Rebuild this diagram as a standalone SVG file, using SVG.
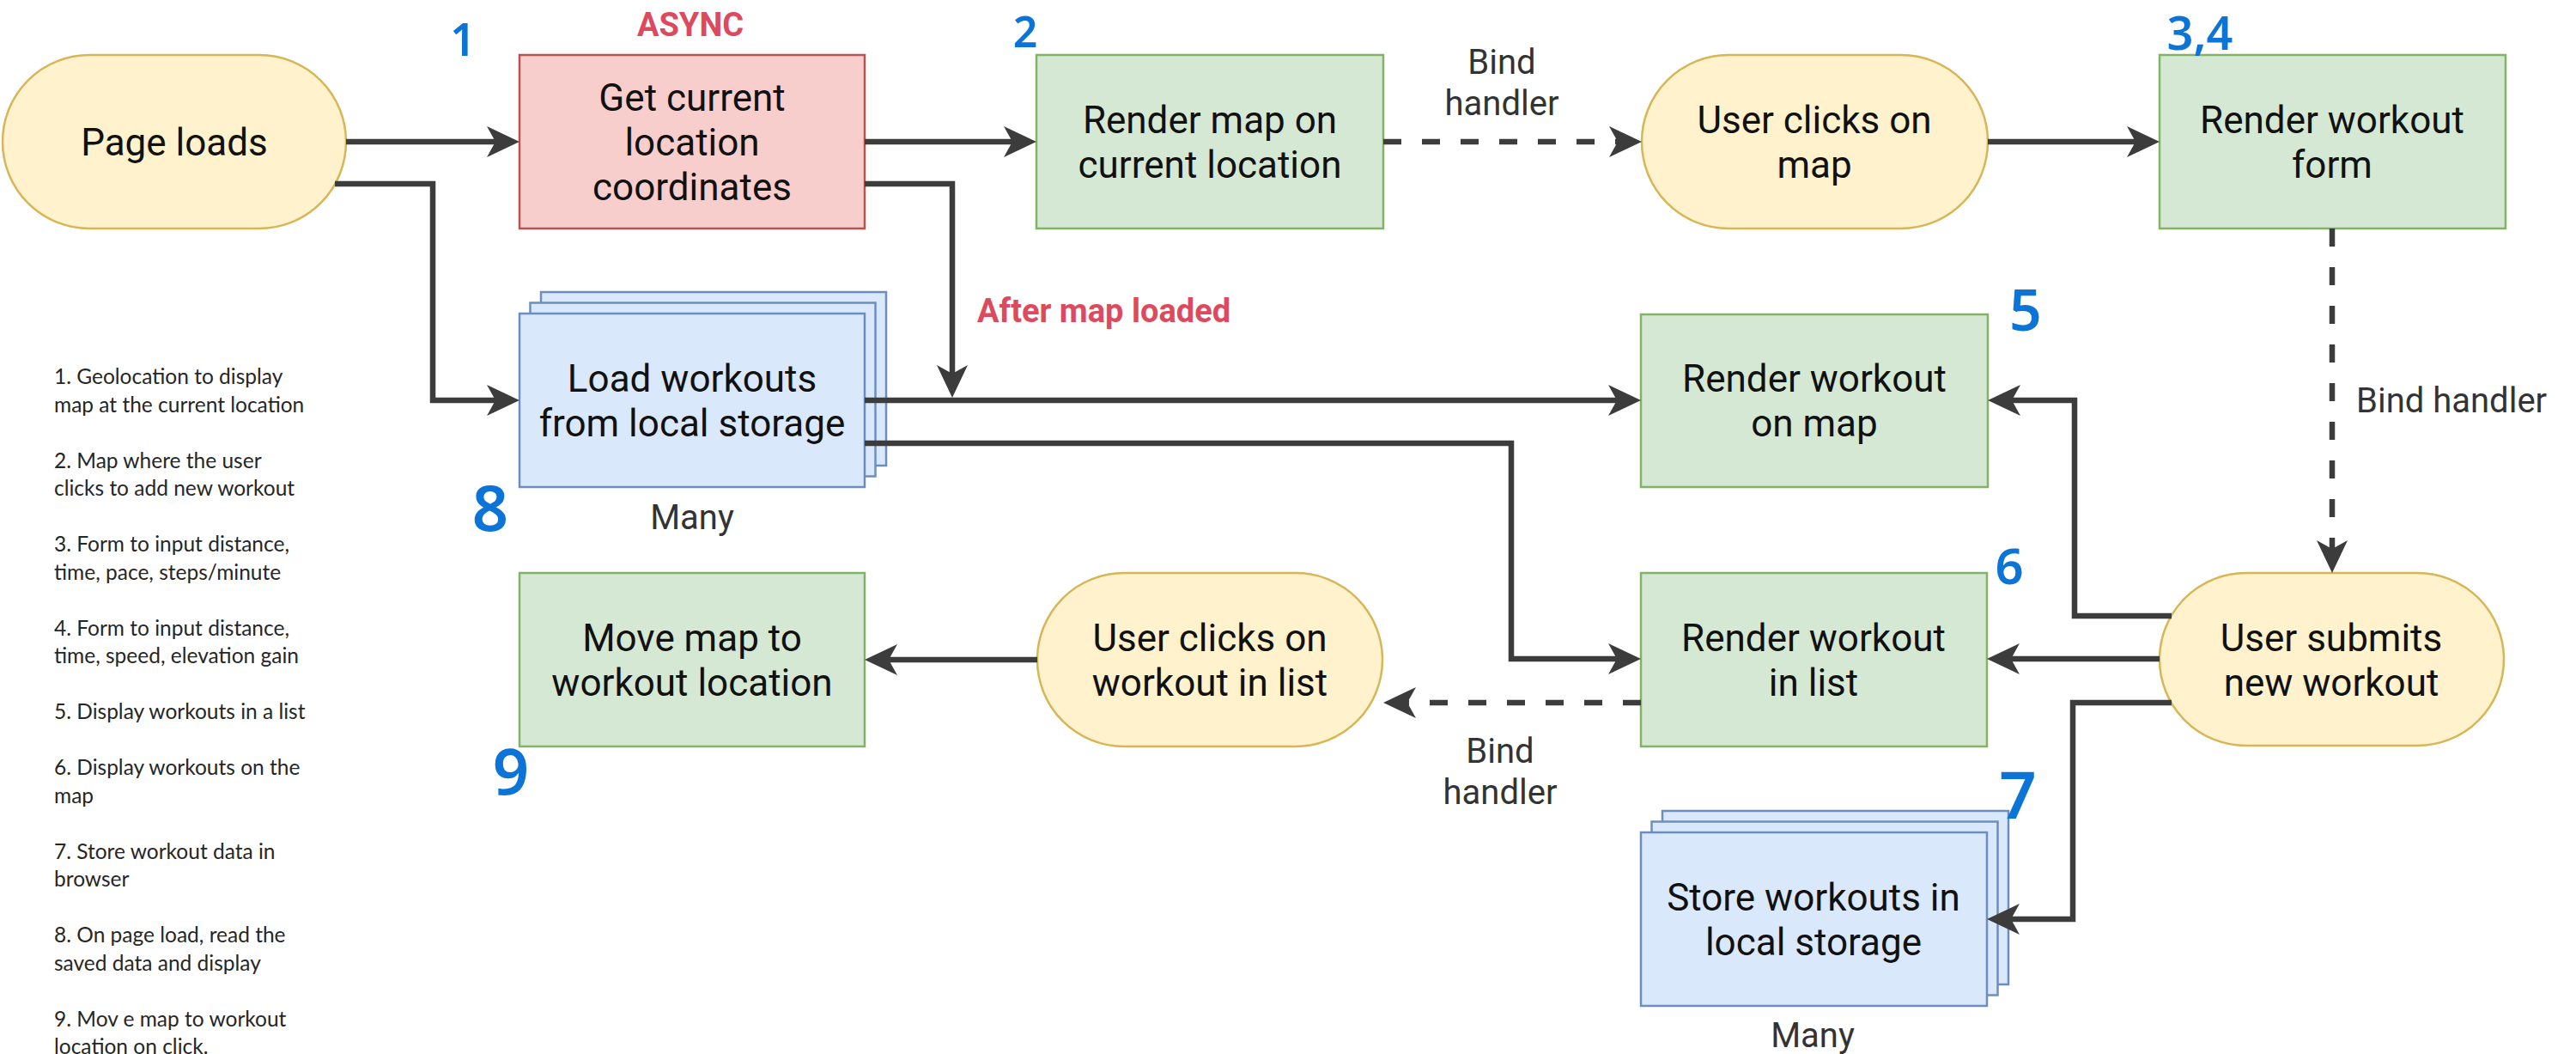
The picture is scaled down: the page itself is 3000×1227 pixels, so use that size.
<svg xmlns="http://www.w3.org/2000/svg" width="3000" height="1227" viewBox="0 0 3000 1227">
  <style>
    .term { fill: #fff2cc; stroke: #d6b656; stroke-width: 2.5; }
    .proc { fill: #d5e8d4; stroke: #82b366; stroke-width: 2.5; }
    .async { fill: #f8cecc; stroke: #b85450; stroke-width: 2.5; }
    .store { fill: #dae8fc; stroke: #6c8ebf; stroke-width: 2.5; }
    .t { font-family: Roboto, "Liberation Sans", sans-serif; font-size: 44px; fill: #111111; text-anchor: middle; }
    .lbl { font-family: Roboto, "Liberation Sans", sans-serif; font-size: 40px; fill: #333333; text-anchor: middle; }
    .lbl.left { text-anchor: start; }
    .hot { font-family: Roboto, "Liberation Sans", sans-serif; font-weight: bold; fill: #dc4a5e; }
    .num { font-family: "Noto Sans", "DejaVu Sans", sans-serif; font-weight: 600; fill: #0b74d6; text-anchor: middle; }
    .legend { font-family: Lato, "Open Sans", sans-serif; font-size: 24.5px; fill: #262626; }
    .edge { fill: none; stroke: #3c3c3c; stroke-width: 6.5; }
    .dash { stroke-dasharray: 21 24; }
  </style>
  <defs>
    <marker id="arrow" viewBox="0 0 38 36" refX="10" refY="18" markerWidth="38" markerHeight="36" markerUnits="userSpaceOnUse" orient="auto">
      <path d="M0,0 L38,18 L0,36 L10,18 Z" fill="#3c3c3c"/>
    </marker>
  </defs>

  <!-- legend -->
  <g id="legend" class="legend">
    <text x="63" y="447">1. Geolocation to display</text>
    <text x="63" y="479.5">map at the current location</text>
    <text x="63" y="544.5">2. Map where the user</text>
    <text x="63" y="577">clicks to add new workout</text>
    <text x="63" y="642">3. Form to input distance,</text>
    <text x="63" y="674.5">time, pace, steps/minute</text>
    <text x="63" y="739.5">4. Form to input distance,</text>
    <text x="63" y="772">time, speed, elevation gain</text>
    <text x="63" y="837">5. Display workouts in a list</text>
    <text x="63" y="902">6. Display workouts on the</text>
    <text x="63" y="934.5">map</text>
    <text x="63" y="999.5">7. Store workout data in</text>
    <text x="63" y="1032">browser</text>
    <text x="63" y="1097">8. On page load, read the</text>
    <text x="63" y="1129.5">saved data and display</text>
    <text x="63" y="1194.5">9. Mov e map to workout</text>
    <text x="63" y="1227">location on click.</text>
  </g>

  <!-- nodes -->
  <g id="page-loads">
    <rect class="term" x="3" y="64" width="400" height="202" rx="101" ry="101"/>
    <text class="t" x="203" y="181">Page loads</text>
  </g>
  <g id="get-location">
    <rect class="async" x="605" y="64" width="402" height="202"/>
    <text class="t" x="806" y="129">Get current</text>
    <text class="t" x="806" y="181">location</text>
    <text class="t" x="806" y="233">coordinates</text>
  </g>
  <g id="render-map">
    <rect class="proc" x="1207" y="64" width="404" height="202"/>
    <text class="t" x="1409" y="155">Render map on</text>
    <text class="t" x="1409" y="207">current location</text>
  </g>
  <g id="user-clicks-map">
    <rect class="term" x="1912" y="64" width="403" height="202" rx="101" ry="101"/>
    <text class="t" x="2113" y="155">User clicks on</text>
    <text class="t" x="2113" y="207">map</text>
  </g>
  <g id="render-form">
    <rect class="proc" x="2515" y="64" width="403" height="202"/>
    <text class="t" x="2716" y="155">Render workout</text>
    <text class="t" x="2716" y="207">form</text>
  </g>
  <g id="load-workouts">
    <rect class="store" x="630" y="340" width="402" height="202"/>
    <rect class="store" x="617.5" y="352.5" width="402" height="202"/>
    <rect class="store" x="605" y="365" width="402" height="202"/>
    <text class="t" x="806" y="456">Load workouts</text>
    <text class="t" x="806" y="508">from local storage</text>
  </g>
  <g id="render-on-map">
    <rect class="proc" x="1911" y="366" width="404" height="201"/>
    <text class="t" x="2113" y="456">Render workout</text>
    <text class="t" x="2113" y="508">on map</text>
  </g>
  <g id="move-map">
    <rect class="proc" x="605" y="667" width="402" height="202"/>
    <text class="t" x="806" y="758">Move map to</text>
    <text class="t" x="806" y="810">workout location</text>
  </g>
  <g id="user-clicks-list">
    <rect class="term" x="1208" y="667" width="402" height="202" rx="101" ry="101"/>
    <text class="t" x="1409" y="758">User clicks on</text>
    <text class="t" x="1409" y="810">workout in list</text>
  </g>
  <g id="render-in-list">
    <rect class="proc" x="1911" y="667" width="403" height="202"/>
    <text class="t" x="2112" y="758">Render workout</text>
    <text class="t" x="2112" y="810">in list</text>
  </g>
  <g id="user-submits">
    <rect class="term" x="2515" y="667" width="401" height="201" rx="100.5" ry="100.5"/>
    <text class="t" x="2715" y="758">User submits</text>
    <text class="t" x="2715" y="810">new workout</text>
  </g>
  <g id="store-workouts">
    <rect class="store" x="1936" y="944" width="403" height="202"/>
    <rect class="store" x="1923.5" y="956.5" width="403" height="202"/>
    <rect class="store" x="1911" y="969" width="403" height="202"/>
    <text class="t" x="2112" y="1060">Store workouts in</text>
    <text class="t" x="2112" y="1112">local storage</text>
  </g>

  <!-- connectors -->
  <g id="connectors">
    <path class="edge" d="M403,165 H577" marker-end="url(#arrow)"/>
    <path class="edge" d="M390,214 H504 V466 H577" marker-end="url(#arrow)"/>
    <path class="edge" d="M1007,165 H1179" marker-end="url(#arrow)"/>
    <path class="edge" d="M1007,214 H1109 V435" marker-end="url(#arrow)"/>
    <path class="edge" d="M1007,466 H1883" marker-end="url(#arrow)"/>
    <path class="edge" d="M1007,516 H1760 V767 H1883" marker-end="url(#arrow)"/>
    <path class="edge dash" d="M1611,165 H1884" marker-end="url(#arrow)"/>
    <path class="edge" d="M2315,165 H2487" marker-end="url(#arrow)"/>
    <path class="edge dash" d="M2716,266 V639" marker-end="url(#arrow)"/>
    <path class="edge" d="M2529,717 H2416 V466 H2343" marker-end="url(#arrow)"/>
    <path class="edge" d="M2515,767 H2342" marker-end="url(#arrow)"/>
    <path class="edge" d="M2529,818 H2414 V1070 H2342" marker-end="url(#arrow)"/>
    <path class="edge dash" d="M1911,818 H1639" marker-end="url(#arrow)"/>
    <path class="edge" d="M1208,768 H1035" marker-end="url(#arrow)"/>
  </g>

  <!-- edge labels and notes -->
  <g id="labels">
    <text class="hot" x="804" y="42" font-size="38" text-anchor="middle">ASYNC</text>
    <text class="hot" x="1138" y="375" font-size="38">After map loaded</text>
    <text class="lbl" x="1749" y="86">Bind</text>
    <text class="lbl" x="1749" y="134">handler</text>
    <text class="lbl" x="1747" y="888">Bind</text>
    <text class="lbl" x="1747" y="936">handler</text>
    <text class="lbl left" x="2744" y="480">Bind handler</text>
    <text class="lbl" x="806" y="616">Many</text>
    <text class="lbl" x="2111" y="1219">Many</text>
  </g>

  <!-- step numbers -->
  <g id="step-numbers">
    <text class="num" x="539" y="65" font-size="52">1</text>
    <text class="num" x="1194" y="55" font-size="50">2</text>
    <text class="num" x="2562" y="58" font-size="54">3,4</text>
    <text class="num" x="2359" y="385" font-size="66">5</text>
    <text class="num" x="2340" y="680" font-size="58">6</text>
    <text class="num" x="2350" y="953" font-size="76">7</text>
    <text class="num" x="571" y="618" font-size="74">8</text>
    <text class="num" x="595" y="925" font-size="74">9</text>
  </g>
</svg>
